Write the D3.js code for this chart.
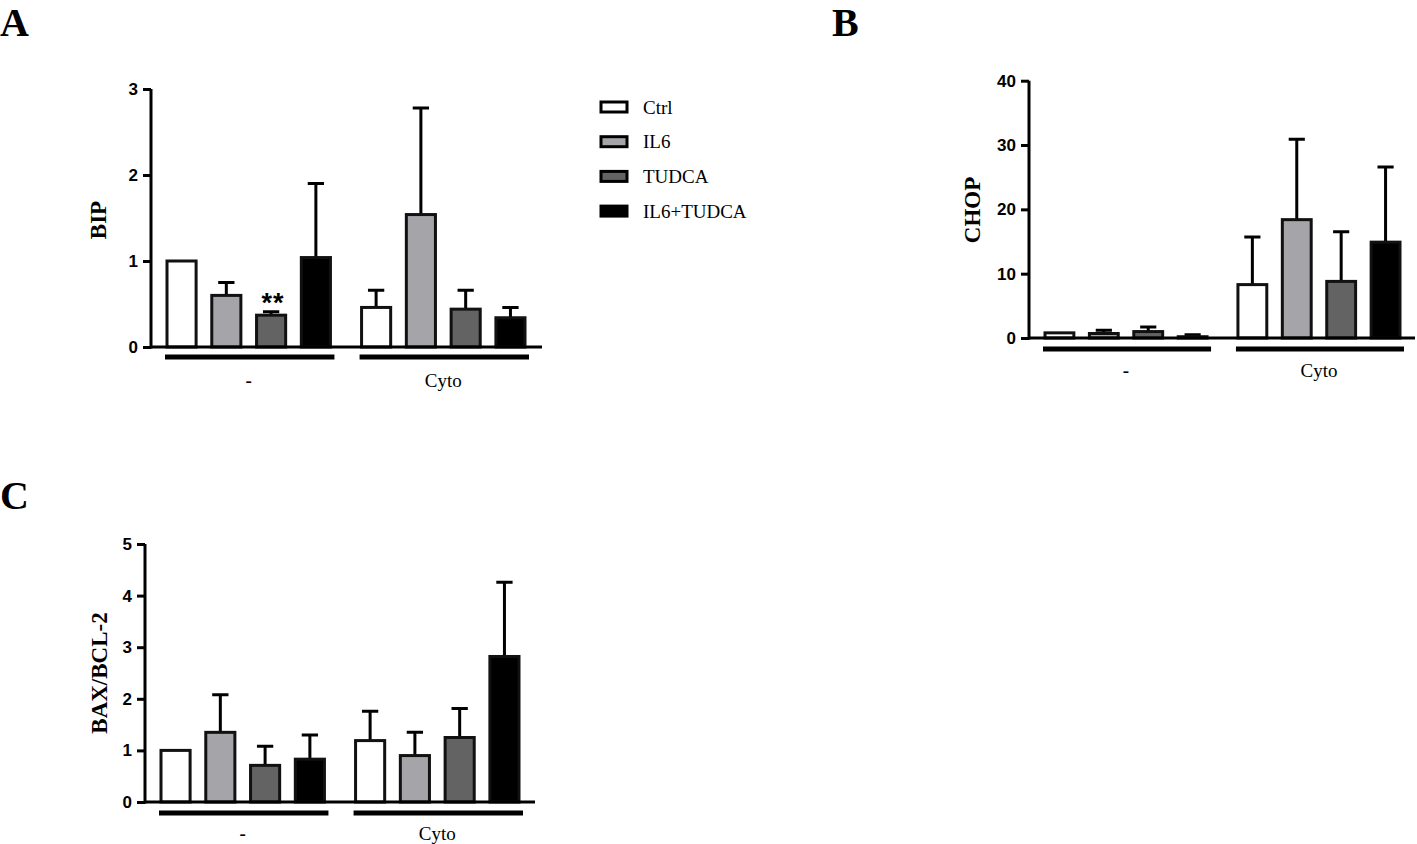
<!DOCTYPE html>
<html>
<head>
<meta charset="utf-8">
<script src="https://cdn.jsdelivr.net/npm/d3@7"></script>
<style>
  body { margin: 0; background: #fff; }
  svg { display: block; }
  .tick text { font-family: 'Liberation Sans', Arial, sans-serif; font-weight: bold; font-size: 17px; fill: #000; }
</style>
</head>
<body>
<div id="chart"></div>
<script>
var groups = ['-', 'Cyto']
var series = ['Ctrl', 'IL6', 'TUDCA', 'IL6+TUDCA']
var colors = ['#ffffff', '#a5a5a9', '#636363', '#000000']

// means and upper SD, ordered [group][series]
var bipMean = [[1.0, 0.60, 0.37, 1.04], [0.46, 1.54, 0.44, 0.34]]
var bipErr = [[1.0, 0.75, 0.41, 1.90], [0.66, 2.78, 0.66, 0.46]]
var bipTicks = [0, 1, 2, 3]

var chopMean = [[0.8, 0.7, 1.0, 0.2], [8.3, 18.4, 8.8, 14.9]]
var chopErr = [[0.8, 1.2, 1.7, 0.5], [15.7, 30.9, 16.5, 26.6]]
var chopTicks = [0, 10, 20, 30, 40]

var baxMean = [[1.0, 1.35, 0.71, 0.83], [1.19, 0.90, 1.25, 2.82]]
var baxErr = [[1.0, 2.08, 1.08, 1.30], [1.76, 1.35, 1.81, 4.26]]
var baxTicks = [0, 1, 2, 3, 4, 5]

var width = 1417
var height = 844

var svg = d3.select('#chart').append('svg')
  .attr('width', width)
  .attr('height', height)

drawPanel({
  letter: 'A', letterX: 0, letterY: 36,
  title: 'BIP', titleX: 98, titleY: 220,
  mean: bipMean, err: bipErr, ticks: bipTicks,
  axisX: 151, axisEnd: 542, y0: 347, y1: 89,
  barLeft: 167, barRight: 525, underY: 357, labelY: 387
})

drawPanel({
  letter: 'B', letterX: 832, letterY: 36,
  title: 'CHOP', titleX: 972, titleY: 210,
  mean: chopMean, err: chopErr, ticks: chopTicks,
  axisX: 1029, axisEnd: 1415, y0: 338, y1: 80.7,
  barLeft: 1045, barRight: 1400, underY: 349, labelY: 377
})

drawPanel({
  letter: 'C', letterX: 0, letterY: 509,
  title: 'BAX/BCL-2', titleX: 99, titleY: 673,
  mean: baxMean, err: baxErr, ticks: baxTicks,
  axisX: 145, axisEnd: 535, y0: 802, y1: 544,
  barLeft: 161, barRight: 519, underY: 813, labelY: 840
})

drawLegend()

// significance mark over TUDCA in panel A
svg.append('text')
  .attr('x', 273)
  .attr('y', 312)
  .attr('text-anchor', 'middle')
  .style('font-family', "'Liberation Sans', Arial, sans-serif")
  .style('font-weight', 'bold')
  .style('font-size', '27px')
  .style('letter-spacing', '1px')
  .text('**')

function drawPanel(p) {
  var g = svg.append('g')

  var y = d3.scaleLinear()
    .domain([0, d3.max(p.ticks)])
    .range([p.y0, p.y1])

  var x0 = d3.scaleBand()
    .domain(groups)
    .range([p.barLeft, p.barRight])
    .paddingInner(0.16)

  var x1 = d3.scaleBand()
    .domain(series)
    .range([0, x0.bandwidth()])
    .paddingInner(0.35)

  g.append('text')
    .attr('x', p.letterX)
    .attr('y', p.letterY)
    .style('font-family', "'Liberation Serif', 'Times New Roman', serif")
    .style('font-weight', 'bold')
    .style('font-size', '40px')
    .text(p.letter)

  g.append('text')
    .attr('transform', 'translate(' + p.titleX + ',' + p.titleY + ')rotate(-90)')
    .attr('text-anchor', 'middle')
    .attr('dy', '0.35em')
    .style('font-family', "'Liberation Serif', 'Times New Roman', serif")
    .style('font-weight', 'bold')
    .style('font-size', '23px')
    .text(p.title)

  var cells = []
  p.mean.forEach(function(row, gi) {
    row.forEach(function(v, si) {
      cells.push({ group: groups[gi], series: series[si], si: si, mean: v, err: p.err[gi][si] })
    })
  })

  var bar = g.selectAll('g.bar')
    .data(cells)
    .enter()
    .append('g')
    .attr('class', 'bar')
    .attr('transform', function(d) {
      return 'translate(' + (x0(d.group) + x1(d.series)) + ',0)'
    })

  var bw = x1.bandwidth()
  var cap = bw * 0.28

  // error bars first, bar body on top hides the lower part
  bar.filter(function(d) { return d.err > d.mean })
    .append('path')
    .attr('d', function(d) {
      return 'M' + (bw / 2) + ',' + y(d.mean) + 'V' + y(d.err) +
        'M' + (bw / 2 - cap) + ',' + y(d.err) + 'H' + (bw / 2 + cap)
    })
    .attr('stroke', '#000')
    .attr('stroke-width', 3)
    .attr('fill', 'none')

  bar.append('rect')
    .attr('x', 0)
    .attr('y', function(d) { return y(d.mean) })
    .attr('width', bw)
    .attr('height', function(d) { return y(0) - y(d.mean) })
    .attr('fill', function(d) { return colors[d.si] })
    .attr('stroke', '#111')
    .attr('stroke-width', 3)

  var axis = d3.axisLeft(y)
    .tickValues(p.ticks)
    .tickFormat(d3.format('d'))
    .tickSize(8)
    .tickSizeOuter(0)
    .tickPadding(5)

  var ag = g.append('g')
    .attr('transform', 'translate(' + p.axisX + ',0)')
    .call(axis)
  ag.selectAll('line, path').attr('stroke', '#000').attr('stroke-width', 3)
  ag.select('.domain').attr('d', 'M0,' + (p.y0 + 1.5) + 'V' + p.y1)

  g.append('line')
    .attr('x1', p.axisX)
    .attr('x2', p.axisEnd)
    .attr('y1', p.y0)
    .attr('y2', p.y0)
    .attr('stroke', '#000')
    .attr('stroke-width', 3)

  // group underlines and labels
  groups.forEach(function(name) {
    g.append('line')
      .attr('x1', x0(name) - 2)
      .attr('x2', x0(name) + x0.bandwidth() + 4)
      .attr('y1', p.underY)
      .attr('y2', p.underY)
      .attr('stroke', '#000')
      .attr('stroke-width', 5)

    g.append('text')
      .attr('x', x0(name) + x0.bandwidth() / 2)
      .attr('y', p.labelY)
      .attr('text-anchor', 'middle')
      .style('font-family', "'Liberation Serif', 'Times New Roman', serif")
      .style('font-size', '19px')
      .style('font-weight', name === '-' ? 'bold' : 'normal')
      .text(name)
  })
}

function drawLegend() {
  var lg = svg.append('g')
    .attr('transform', 'translate(600,107)')

  var row = lg.selectAll('g')
    .data(series)
    .enter()
    .append('g')
    .attr('transform', function(d, i) {
      return 'translate(0,' + (i * 34.7) + ')'
    })

  row.append('rect')
    .attr('x', 1)
    .attr('y', -5)
    .attr('width', 26)
    .attr('height', 10)
    .attr('fill', function(d, i) { return colors[i] })
    .attr('stroke', '#000')
    .attr('stroke-width', 3)

  row.append('text')
    .attr('x', 43)
    .attr('y', 0)
    .attr('dy', '0.35em')
    .style('font-family', "'Liberation Serif', 'Times New Roman', serif")
    .style('font-size', '19px')
    .text(function(d) { return d })
}
</script>
</body>
</html>
